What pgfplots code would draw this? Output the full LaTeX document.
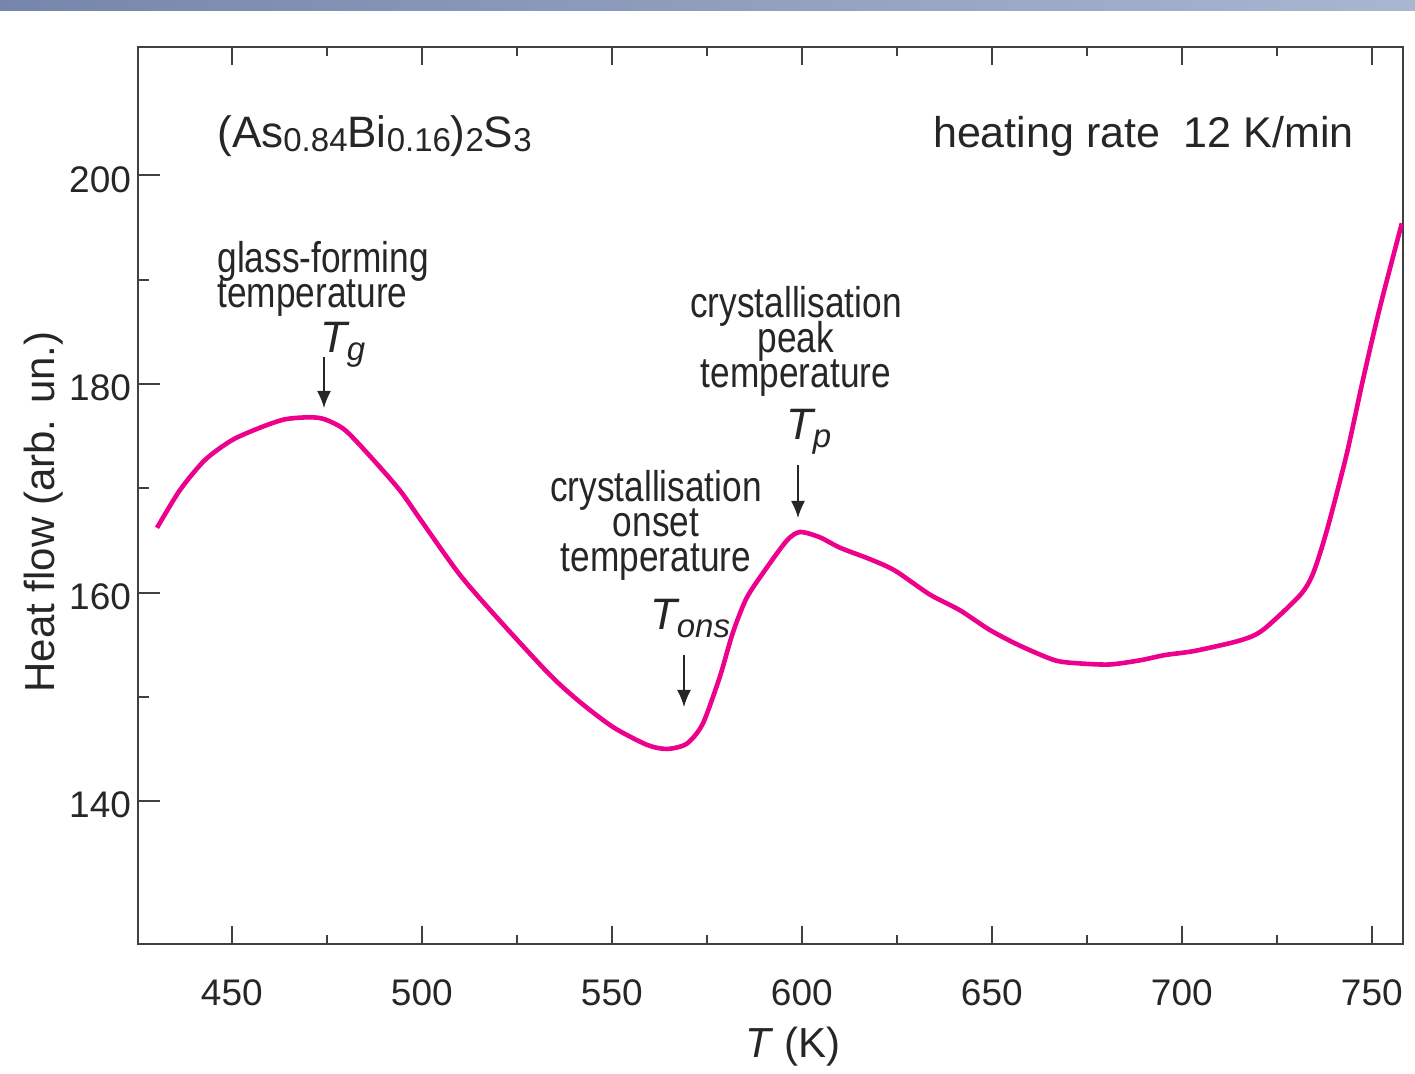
\documentclass[border=0pt]{standalone}
\usepackage{fontspec}
\setmainfont{Liberation Sans}
\newfontfamily\narrowfont[FakeStretch=0.82]{Liberation Sans}
\usepackage{pgfplots}
\pgfplotsset{compat=1.18}
\usetikzlibrary{arrows.meta}
\definecolor{curve}{HTML}{EC008C}
\definecolor{axgray}{HTML}{404040}
\definecolor{barL}{HTML}{7686AA}
\definecolor{barR}{HTML}{AAB5D1}
\newcommand{\hsub}[1]{\raisebox{-2pt}{\fontsize{16.5}{17}\selectfont #1}}
\newcommand{\tsub}[1]{\kern-1.5pt\raisebox{-4pt}{\fontsize{16.5}{17}\selectfont\itshape #1}}
\newcommand{\annfont}{\narrowfont\fontsize{21.5}{17.5}\selectfont\lineskiplimit=-50pt\lineskip=0pt}
\pgfplotstableread{
T v
430.3 166.2
436.3 169.8
442.9 172.7
450.0 174.6
457.4 175.8
463.9 176.6
470.5 176.8
474.5 176.6
479.7 175.6
486.3 173.1
494.2 169.8
500.0 166.8
510.0 161.7
520.5 157.3
533.7 152.1
541.6 149.5
550.3 147.1
559.2 145.4
564.5 145.0
569.7 145.5
573.9 147.4
578.4 151.9
581.8 156.1
585.5 159.5
590.8 162.4
596.1 165.0
599.5 165.8
604.7 165.3
610.0 164.3
617.9 163.2
624.5 162.1
633.7 159.8
641.6 158.3
649.5 156.4
657.4 154.9
666.6 153.5
673.2 153.2
681.1 153.1
689.0 153.5
695.5 154.0
703.4 154.4
715.3 155.4
721.3 156.4
731.0 159.7
734.5 161.8
738.2 166.0
743.4 173.3
747.6 180.3
752.1 187.3
757.9 195.4
}\heatflow
\begin{document}
\begin{tikzpicture}
\begin{scope}[x=0.5pt,y=-0.5pt]
\path[use as bounding box] (0,0) rectangle (1415,1064);
\shade[left color=barL, right color=barR] (0,0) rectangle (1415,11);
\end{scope}
\begin{axis}[
  at={(69pt,-472pt)}, anchor=south west,
  scale only axis, width=632.5pt, height=448.5pt,
  xmin=425.3, xmax=758.2, ymin=126.3, ymax=212.3,
  xtick={450,500,...,750},
  ytick={140,160,180,200},
  minor x tick num=1, minor y tick num=1,
  tick align=inside,
  xtick pos=both, ytick pos=left,
  axis line style={axgray, line width=1pt},
  every tick/.style={axgray, line width=1pt},
  every minor tick/.style={axgray, line width=1pt},
  xtick style={/pgfplots/major tick length=9pt, /pgfplots/minor tick length=4.5pt},
  ytick style={/pgfplots/major tick length=11pt, /pgfplots/minor tick length=5.5pt},
  /pgf/number format/assume math mode=true,
  /pgf/number format/1000 sep={},
  ticklabel style={font=\fontsize{18.5}{20}\selectfont, text=black!85},
  xticklabel style={anchor=base, yshift=-30.5pt},
  yticklabel style={yshift=-2pt},
  xlabel={\textit{T} (K)},
  ylabel={Heat flow (arb. un.)},
  label style={font=\fontsize{21}{24}\selectfont, text=black!85},
  xlabel style={at={(axis description cs:0.5178,-0.127)}, anchor=base},
  ylabel style={at={(axis description cs:-0.0743,0.4816)}, anchor=center},
]
\addplot[curve, line width=2.3pt, smooth, tension=0.45] table[x=T,y=v] {\heatflow};
\end{axis}
\begin{scope}[x=0.5pt,y=-0.5pt, every node/.style={inner sep=0pt, text=black!85}]
\node[anchor=base west, font=\fontsize{22}{26}\selectfont] at (217,148) {(As\hsub{0.84}Bi\hsub{0.16})\hsub{2}S\hsub{3}};
\node[anchor=base east, font=\fontsize{21.5}{26}\selectfont] at (1354,148) {heating rate\hspace{0.55em}12 K/min};
% Tg
\node[anchor=base west, align=left, font=\annfont] at (217,308) {glass-forming\\temperature};
\node[anchor=base west, font=\fontsize{22}{26}\selectfont] at (320,353) {\textit{T}\tsub{g}};
\draw[line width=0.8pt, black!85, -{Latex[length=8.5pt,width=7pt]}] (324,357) -- (324,408);
% Tp
\node[anchor=base, align=center, font=\annfont] at (796,388) {crystallisation\\peak\\temperature};
\node[anchor=base west, font=\fontsize{22}{26}\selectfont] at (786,440) {\textit{T}\tsub{p}};
\draw[line width=0.8pt, black!85, -{Latex[length=8.5pt,width=7pt]}] (798,465) -- (798,518);
% Tons
\node[anchor=base, align=center, font=\annfont] at (656,572) {crystallisation\\onset\\temperature};
\node[anchor=base west, font=\fontsize{22}{26}\selectfont] at (650,630) {\textit{T}\tsub{ons}};
\draw[line width=0.8pt, black!85, -{Latex[length=8.5pt,width=7pt]}] (684,655) -- (684,707);
\end{scope}
\end{tikzpicture}
\end{document}
